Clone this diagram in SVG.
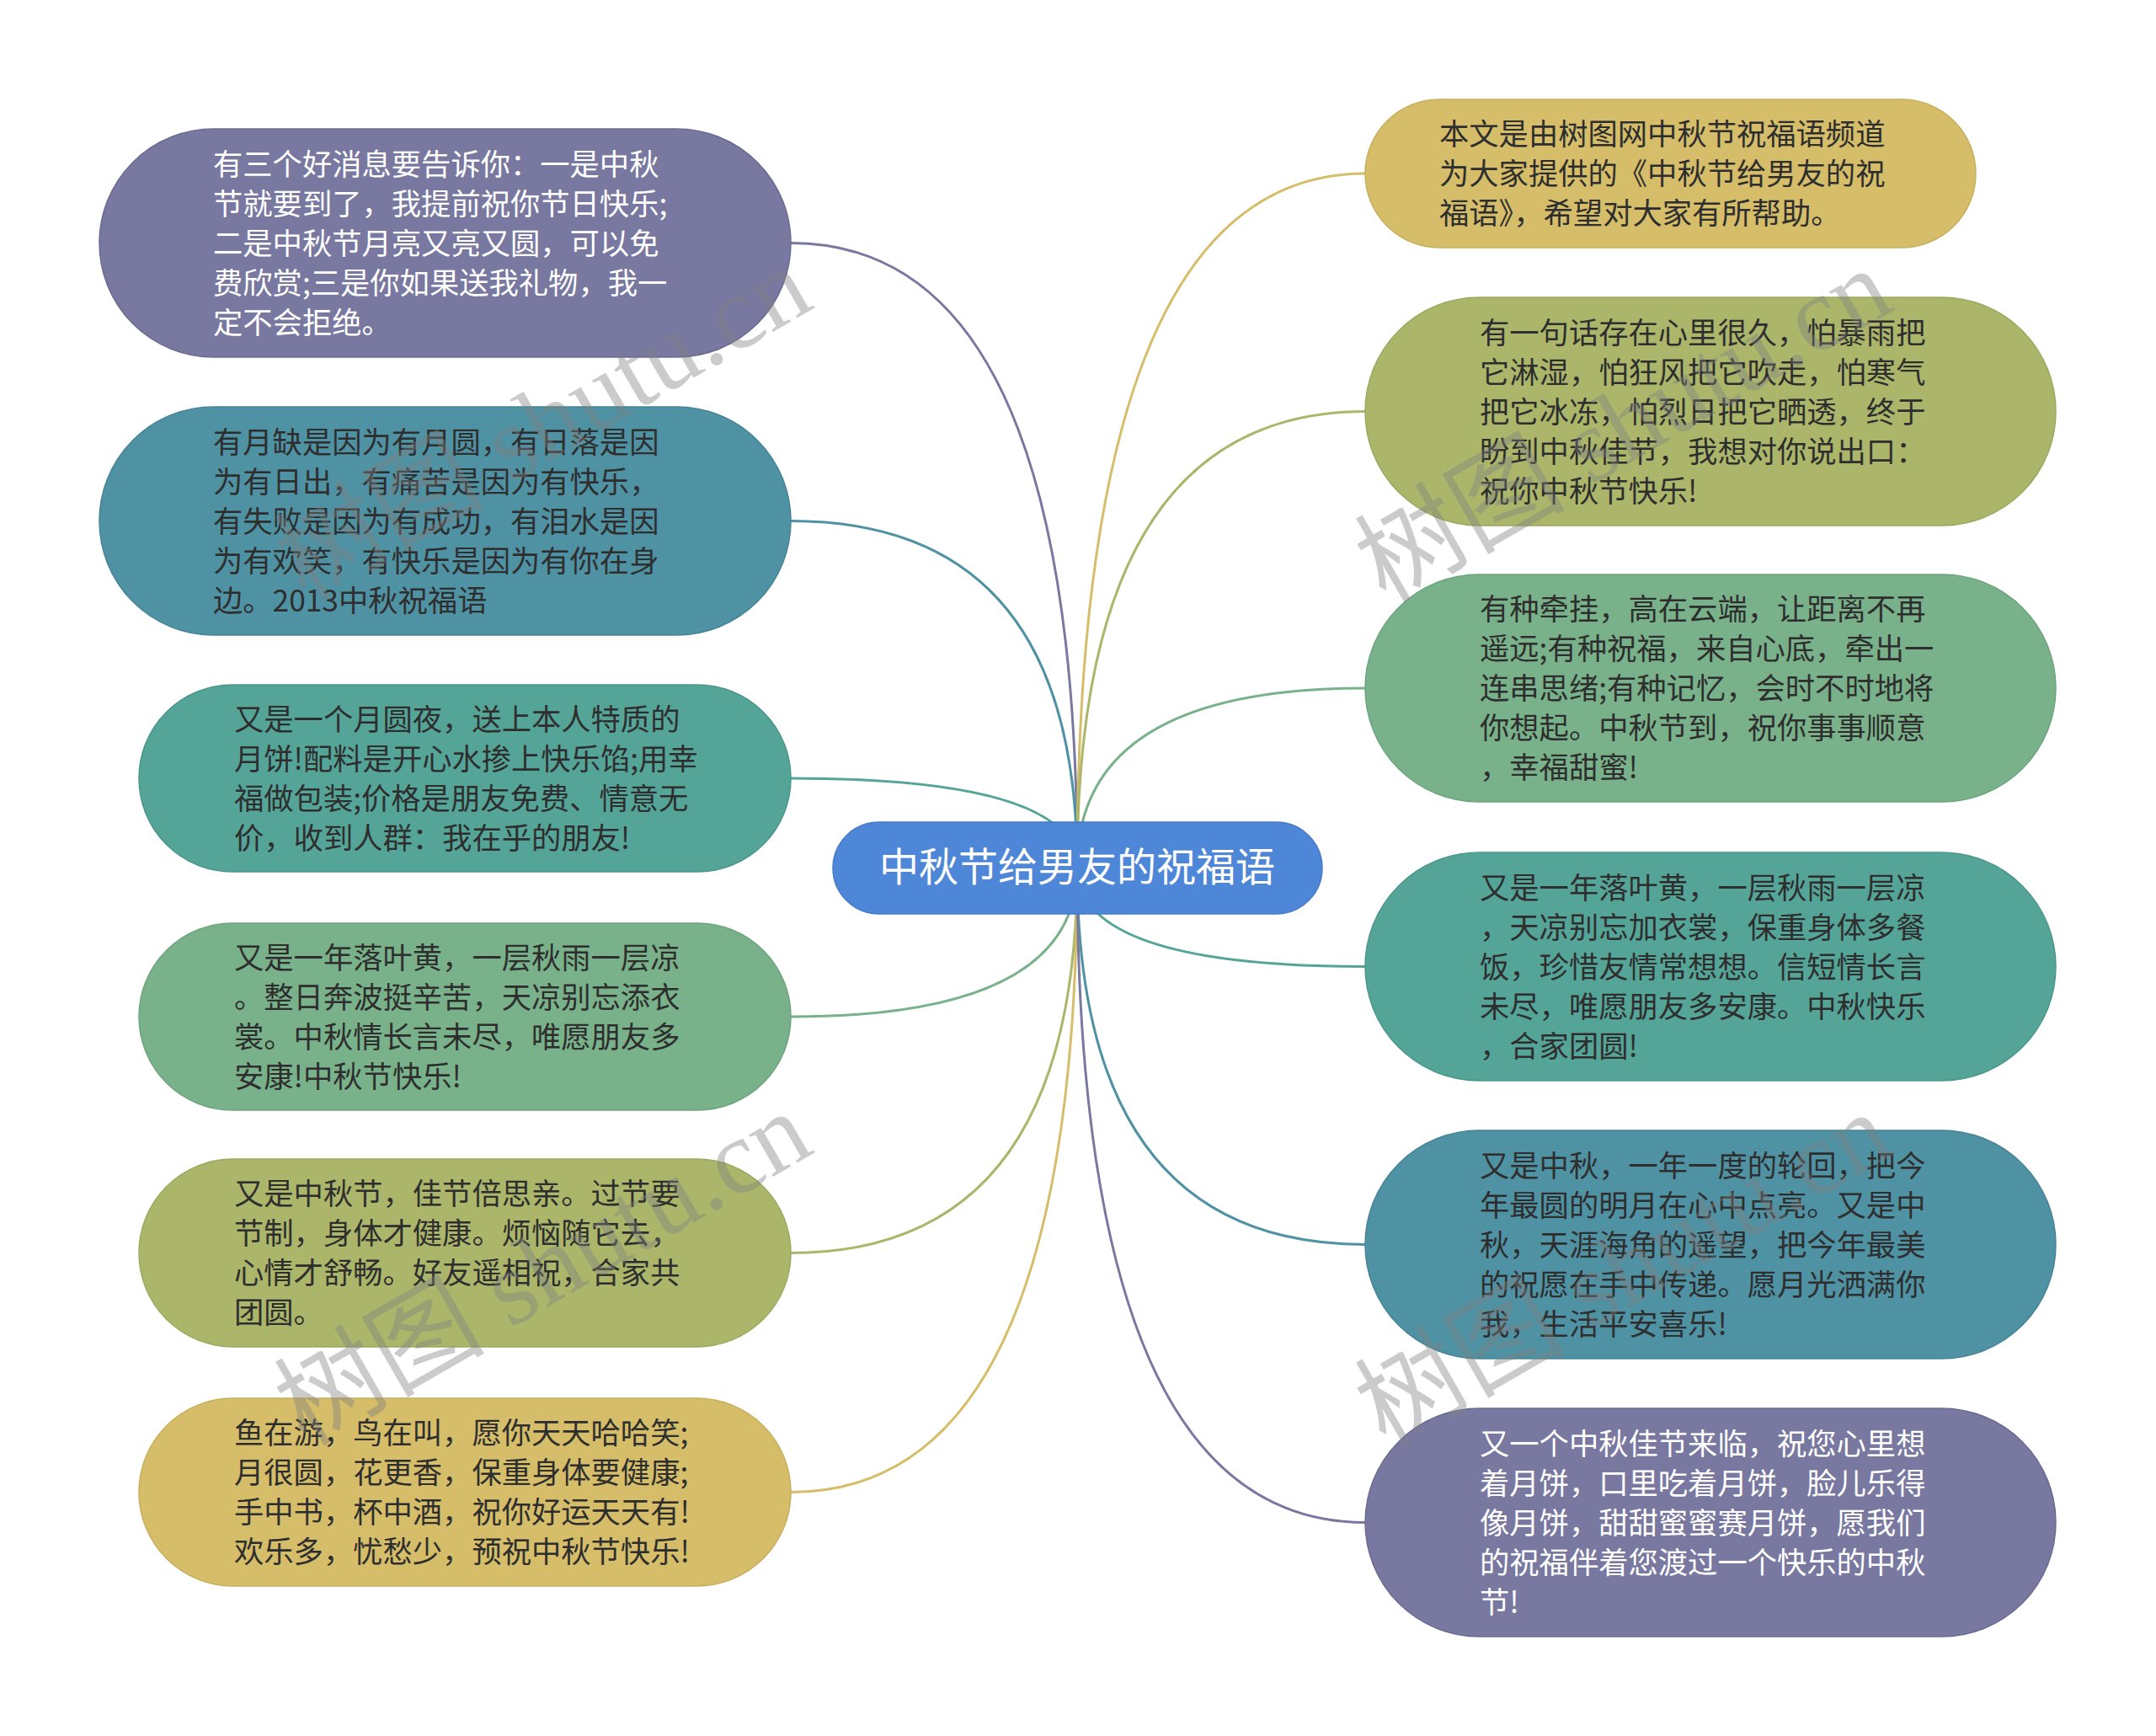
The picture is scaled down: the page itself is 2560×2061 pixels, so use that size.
<svg xmlns="http://www.w3.org/2000/svg" width="2560" height="2061" viewBox="0 0 2560 2061">
<style>
.t{font-family:"Noto Sans CJK SC","Noto Sans",sans-serif;font-size:35.3px;fill:#2e2e2e}
.w{fill:#ffffff}
.c{fill:none;stroke-width:3}
.wm{font-family:"Liberation Serif","Noto Sans CJK SC",serif;font-size:125px;fill:#808080;opacity:0.4}
.purple{fill:#7978a0;stroke:#6b6a92;stroke-width:1.5}
.tblue{fill:#4f92a4;stroke:#468496;stroke-width:1.5}
.teal{fill:#55a498;stroke:#4b968a;stroke-width:1.5}
.green{fill:#79b28a;stroke:#6ca47d;stroke-width:1.5}
.olive{fill:#abb66b;stroke:#9da85f;stroke-width:1.5}
.yellow{fill:#d5bd6a;stroke:#c7af5e;stroke-width:1.5}
</style>
<rect width="2560" height="2061" fill="#ffffff"/>
<g id="connectors">
<path class="c" stroke="#7978a0" d="M1279 1030 Q1279 288.5 939 288.5"/>
<path class="c" stroke="#4f92a4" d="M1279 1030 Q1279 618.5 939 618.5"/>
<path class="c" stroke="#55a498" d="M1279 1030 Q1279 924 939 924"/>
<path class="c" stroke="#79b28a" d="M1279 1030 Q1279 1207 939 1207"/>
<path class="c" stroke="#abb66b" d="M1279 1030 Q1279 1487.5 939 1487.5"/>
<path class="c" stroke="#d5bd6a" d="M1279 1030 Q1279 1771.5 939 1771.5"/>
<path class="c" stroke="#d5bd6a" d="M1279 1030 Q1279 206 1621 206"/>
<path class="c" stroke="#abb66b" d="M1279 1030 Q1279 488.5 1621 488.5"/>
<path class="c" stroke="#79b28a" d="M1279 1030 Q1279 817 1621 817"/>
<path class="c" stroke="#55a498" d="M1279 1030 Q1279 1147.5 1621 1147.5"/>
<path class="c" stroke="#4f92a4" d="M1279 1030 Q1279 1477.5 1621 1477.5"/>
<path class="c" stroke="#7978a0" d="M1279 1030 Q1279 1807.5 1621 1807.5"/>
</g>
<g id="center">
<rect x="989" y="976" width="581" height="109" rx="54.5" fill="#4f87d8" stroke="#4679c6" stroke-width="1.5"/>
<text x="1279" y="1046" text-anchor="middle" font-family="Noto Sans CJK SC, sans-serif" font-size="47" fill="#ffffff">中秋节给男友的祝福语</text>
</g>
<g id="L1">
<rect class="purple" x="118" y="153" width="821" height="271" rx="135.5"/>
<text class="t w"><tspan x="253" y="207.5">有三个好消息要告诉你：一是中秋</tspan><tspan x="253" y="254.5">节就要到了，我提前祝你节日快乐;</tspan><tspan x="253" y="301.5">二是中秋节月亮又亮又圆，可以免</tspan><tspan x="253" y="348.5">费欣赏;三是你如果送我礼物，我一</tspan><tspan x="253" y="395.5">定不会拒绝。</tspan></text>
</g>
<g id="L2">
<rect class="tblue" x="118" y="483" width="821" height="271" rx="135.5"/>
<text class="t"><tspan x="253" y="537.5">有月缺是因为有月圆，有日落是因</tspan><tspan x="253" y="584.5">为有日出，有痛苦是因为有快乐，</tspan><tspan x="253" y="631.5">有失败是因为有成功，有泪水是因</tspan><tspan x="253" y="678.5">为有欢笑，有快乐是因为有你在身</tspan><tspan x="253" y="725.5">边。2013中秋祝福语</tspan></text>
</g>
<g id="L3">
<rect class="teal" x="165" y="813" width="774" height="222" rx="111"/>
<text class="t"><tspan x="278" y="866.5">又是一个月圆夜，送上本人特质的</tspan><tspan x="278" y="913.5">月饼!配料是开心水掺上快乐馅;用幸</tspan><tspan x="278" y="960.5">福做包装;价格是朋友免费、情意无</tspan><tspan x="278" y="1007.5">价，收到人群：我在乎的朋友!</tspan></text>
</g>
<g id="L4">
<rect class="green" x="165" y="1096" width="774" height="222" rx="111"/>
<text class="t"><tspan x="278" y="1149.5">又是一年落叶黄，一层秋雨一层凉</tspan><tspan x="278" y="1196.5">。整日奔波挺辛苦，天凉别忘添衣</tspan><tspan x="278" y="1243.5">裳。中秋情长言未尽，唯愿朋友多</tspan><tspan x="278" y="1290.5">安康!中秋节快乐!</tspan></text>
</g>
<g id="L5">
<rect class="olive" x="165" y="1376" width="774" height="223" rx="111.5"/>
<text class="t"><tspan x="278" y="1430">又是中秋节，佳节倍思亲。过节要</tspan><tspan x="278" y="1477">节制，身体才健康。烦恼随它去，</tspan><tspan x="278" y="1524">心情才舒畅。好友遥相祝，合家共</tspan><tspan x="278" y="1571">团圆。</tspan></text>
</g>
<g id="L6">
<rect class="yellow" x="165" y="1660" width="774" height="223" rx="111.5"/>
<text class="t"><tspan x="278" y="1714">鱼在游，鸟在叫，愿你天天哈哈笑;</tspan><tspan x="278" y="1761">月很圆，花更香，保重身体要健康;</tspan><tspan x="278" y="1808">手中书，杯中酒，祝你好运天天有!</tspan><tspan x="278" y="1855">欢乐多，忧愁少，预祝中秋节快乐!</tspan></text>
</g>
<g id="R1">
<rect class="yellow" x="1621" y="118" width="725" height="176" rx="88"/>
<text class="t"><tspan x="1709" y="172">本文是由树图网中秋节祝福语频道</tspan><tspan x="1709" y="219">为大家提供的《中秋节给男友的祝</tspan><tspan x="1709" y="266">福语》，希望对大家有所帮助。</tspan></text>
</g>
<g id="R2">
<rect class="olive" x="1621" y="353" width="820" height="271" rx="135.5"/>
<text class="t"><tspan x="1757" y="407.5">有一句话存在心里很久，怕暴雨把</tspan><tspan x="1757" y="454.5">它淋湿，怕狂风把它吹走，怕寒气</tspan><tspan x="1757" y="501.5">把它冰冻，怕烈日把它晒透，终于</tspan><tspan x="1757" y="548.5">盼到中秋佳节，我想对你说出口：</tspan><tspan x="1757" y="595.5">祝你中秋节快乐!</tspan></text>
</g>
<g id="R3">
<rect class="green" x="1621" y="682" width="820" height="270" rx="135"/>
<text class="t"><tspan x="1757" y="736">有种牵挂，高在云端，让距离不再</tspan><tspan x="1757" y="783">遥远;有种祝福，来自心底，牵出一</tspan><tspan x="1757" y="830">连串思绪;有种记忆，会时不时地将</tspan><tspan x="1757" y="877">你想起。中秋节到，祝你事事顺意</tspan><tspan x="1757" y="924">，幸福甜蜜!</tspan></text>
</g>
<g id="R4">
<rect class="teal" x="1621" y="1012" width="820" height="271" rx="135.5"/>
<text class="t"><tspan x="1757" y="1066.5">又是一年落叶黄，一层秋雨一层凉</tspan><tspan x="1757" y="1113.5">，天凉别忘加衣裳，保重身体多餐</tspan><tspan x="1757" y="1160.5">饭，珍惜友情常想想。信短情长言</tspan><tspan x="1757" y="1207.5">未尽，唯愿朋友多安康。中秋快乐</tspan><tspan x="1757" y="1254.5">，合家团圆!</tspan></text>
</g>
<g id="R5">
<rect class="tblue" x="1621" y="1342" width="820" height="271" rx="135.5"/>
<text class="t"><tspan x="1757" y="1396.5">又是中秋，一年一度的轮回，把今</tspan><tspan x="1757" y="1443.5">年最圆的明月在心中点亮。又是中</tspan><tspan x="1757" y="1490.5">秋，天涯海角的遥望，把今年最美</tspan><tspan x="1757" y="1537.5">的祝愿在手中传递。愿月光洒满你</tspan><tspan x="1757" y="1584.5">我，生活平安喜乐!</tspan></text>
</g>
<g id="R6">
<rect class="purple" x="1621" y="1672" width="820" height="271" rx="135.5"/>
<text class="t w"><tspan x="1757" y="1726.5">又一个中秋佳节来临，祝您心里想</tspan><tspan x="1757" y="1773.5">着月饼，口里吃着月饼，脸儿乐得</tspan><tspan x="1757" y="1820.5">像月饼，甜甜蜜蜜赛月饼，愿我们</tspan><tspan x="1757" y="1867.5">的祝福伴着您渡过一个快乐的中秋</tspan><tspan x="1757" y="1914.5">节!</tspan></text>
</g>
<g id="watermarks">
<text class="wm" transform="translate(362 715) rotate(-30)">树图 shutu.cn</text>
<text class="wm" transform="translate(362 1718) rotate(-30)">树图 shutu.cn</text>
<text class="wm" transform="translate(1645 717) rotate(-30)">树图 shutu.cn</text>
<text class="wm" transform="translate(1645 1719) rotate(-30)">树图 shutu.cn</text>
</g>
</svg>
